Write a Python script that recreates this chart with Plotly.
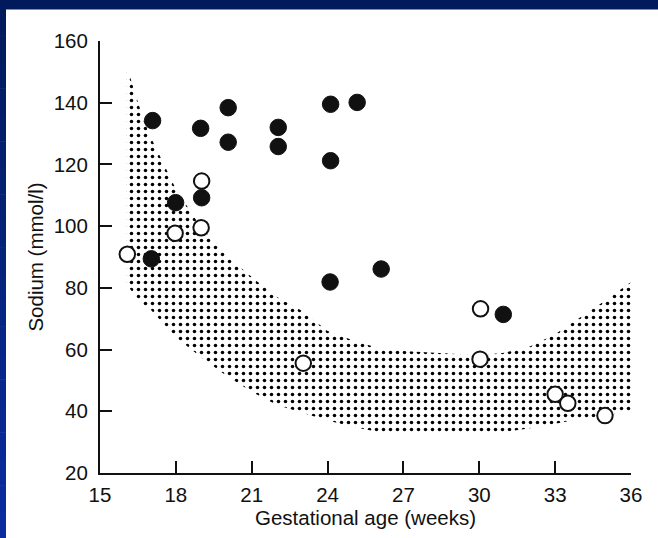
import plotly.graph_objects as go

# Gestational age (weeks) and amniotic sodium (mmol/l)
filled_age = [17.08, 18.98, 20.07, 20.07, 22.05, 22.05, 24.12, 25.17, 24.12,
              17.99, 19.02, 17.03, 24.10, 26.12, 30.95]
filled_na = [134.2, 131.7, 138.4, 127.2, 132.0, 125.8, 139.5, 140.1, 121.2,
             107.6, 109.2, 89.4, 81.9, 86.1, 71.4]

open_age = [19.02, 19.00, 17.97, 16.08, 30.05, 23.04, 30.03, 33.00, 33.50, 34.97]
open_na = [114.6, 99.5, 97.7, 90.9, 73.2, 55.6, 56.9, 45.5, 42.6, 38.6]

# Reference range (shaded band): upper and lower limits by week
band_age = [16.05, 16.7, 17, 18, 19, 20, 21, 22, 23, 24, 25, 26, 27, 28, 29,
            30, 31, 32, 33, 34, 35, 36.1]
band_upper = [152, 135, 129, 112, 99.5, 90.5, 83.5, 77, 72.5, 66, 63, 60.5,
              59.5, 59, 58.5, 58.2, 59, 61, 65, 70.5, 76, 82.5]
band_lower = [81, 74.5, 73, 64, 57.5, 51.5, 46.3, 42, 39.6, 37, 35, 33.3,
              33, 33, 33, 33, 33.3, 34.5, 36, 37.5, 38.5, 40.4]

x_ticks = [15, 18, 21, 24, 27, 30, 33, 36]
y_ticks = [20, 40, 60, 80, 100, 120, 140, 160]

W, H = 658, 538
M = dict(l=100, r=27, t=41, b=65)
FONT = "Liberation Sans, Arial, Helvetica, sans-serif"

fig = go.Figure()

# stippled reference band
fig.add_trace(go.Scatter(
    x=band_age + band_age[::-1],
    y=band_upper + band_lower[::-1],
    fill="toself",
    mode="lines",
    line=dict(width=0, color="rgba(0,0,0,0)"),
    fillcolor="rgba(0,0,0,0)",
    fillpattern=dict(shape=".", fgcolor="#000000", bgcolor="rgba(255,255,255,0)",
                     size=7, solidity=0.2, fillmode="replace"),
    hoverinfo="skip",
))

fig.add_trace(go.Scatter(
    x=open_age, y=open_na, mode="markers",
    marker=dict(size=15.5, color="white", line=dict(color="#111111", width=2)),
))

fig.add_trace(go.Scatter(
    x=filled_age, y=filled_na, mode="markers",
    marker=dict(size=16.5, color="#111111", line=dict(color="#111111", width=1)),
))

axis_common = dict(
    showgrid=False, zeroline=False, showline=True, linecolor="#111111", linewidth=2,
    ticks="inside", ticklen=12, tickwidth=2, tickcolor="#111111",
    tickfont=dict(family=FONT, size=20.5, color="#111111"),
    title_font=dict(family=FONT, size=20.5, color="#111111"),
)

fig.update_xaxes(range=[15, 36], tickvals=x_ticks, title_text="Gestational age (weeks)",
                 title_standoff=4, ticklabelstandoff=2, **axis_common)
fig.update_yaxes(range=[20, 160], tickvals=y_ticks, title_text="Sodium (mmol/l)",
                 title_standoff=5, ticklabelstandoff=6, **axis_common)

# slide frame: navy band on top, blue strip down the left edge
pw = W - M["l"] - M["r"]
ph = H - M["t"] - M["b"]


def px_x(p):
    return (p - M["l"]) / pw


def px_y(p):
    return 1 - (p - M["t"]) / ph


shapes = [dict(type="rect", xref="paper", yref="paper",
               x0=px_x(0), x1=px_x(W), y0=px_y(0), y1=px_y(9.5),
               fillcolor="#001a5c", line=dict(width=0), layer="above")]
top_rgb = (0, 26, 92)
bot_rgb = (10, 44, 158)
n = 20
for i in range(n):
    t = i / (n - 1)
    c = tuple(round(a + (b - a) * t) for a, b in zip(top_rgb, bot_rgb))
    y0 = 9 + (H - 9) * i / n
    y1 = 9 + (H - 9) * (i + 1) / n
    shapes.append(dict(type="rect", xref="paper", yref="paper",
                       x0=px_x(0), x1=px_x(6), y0=px_y(y0), y1=px_y(y1 + 0.5),
                       fillcolor="rgb(%d,%d,%d)" % c, line=dict(width=0), layer="above"))

fig.update_layout(
    width=W, height=H, margin=M,
    paper_bgcolor="white", plot_bgcolor="white",
    showlegend=False, shapes=shapes,
)

fig.write_html("out.html")
